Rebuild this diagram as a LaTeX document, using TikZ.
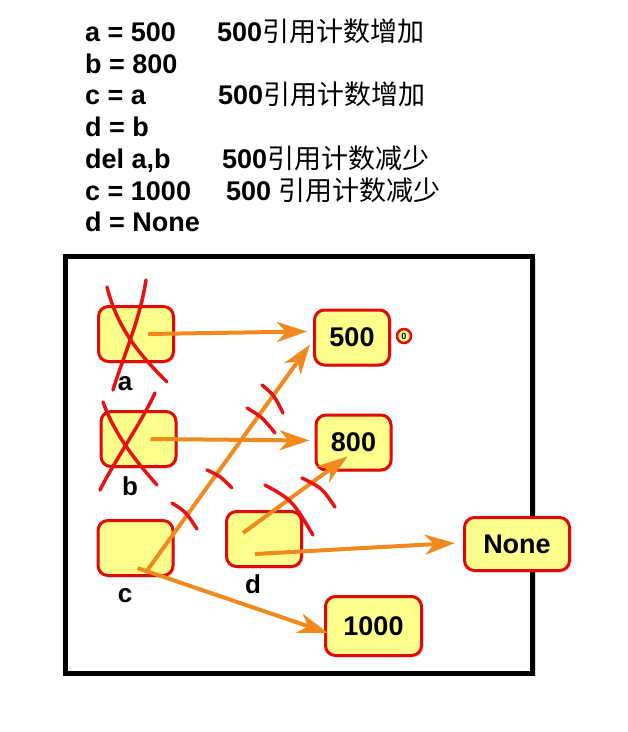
\documentclass[tikz,border=0pt]{standalone}
\usepackage{fontspec}
\setmainfont{Liberation Sans}
\newfontfamily\cjk{Noto Sans CJK SC}
\usepackage{tikz}
\usetikzlibrary{arrows.meta,shadows}
\definecolor{boxfill}{RGB}{255,255,140}
\definecolor{boxline}{RGB}{225,10,10}
\definecolor{refline}{RGB}{240,138,30}
\definecolor{scratchline}{RGB}{232,18,18}
\tikzset{
    codeline/.style={anchor=base west, inner sep=0pt, font=\fontsize{27}{32}\selectfont\bfseries},
    varbox/.style={shape=rectangle, draw=boxline, fill=boxfill, line width=3pt, rounded corners=10pt,
        minimum width=75pt, minimum height=55pt, drop shadow={opacity=0.25, shadow xshift=2pt, shadow yshift=-2pt}},
    valbox/.style={varbox, font=\fontsize{27}{30}\selectfont\bfseries},
    varname/.style={anchor=base, inner sep=0pt, font=\fontsize{26}{30}\selectfont\bfseries},
    ref/.style={draw=refline, line width=4pt, -{Stealth[length=30pt, width=20pt, inset=9pt]}},
    scratch/.style={draw=scratchline, line width=3.5pt, line cap=round},
}
\begin{document}
\begin{tikzpicture}[x=1pt, y=-1pt]

            \useasboundingbox (0,0) rectangle (628,732);

            \node[codeline] (l1) at (85,41) {a = 500};
            \node[codeline] (l2) at (85,73) {b = 800};
            \node[codeline] (l3) at (85,104) {c = a};
            \node[codeline] (l4) at (85,136) {d = b};
            \node[codeline] (l5) at (85,168) {del a,b};
            \node[codeline] (l6) at (85,200) {c = 1000};
            \node[codeline] (l7) at (85,231) {d = None};
            \node[codeline] (n1) at (217,41) {500{\cjk\mdseries 引用计数增加}};
            \node[codeline] (n3) at (218,104) {500{\cjk\mdseries 引用计数增加}};
            \node[codeline] (n5) at (222,168) {500{\cjk\mdseries 引用计数减少}};
            \node[codeline] (n6) at (226,200) {500 {\cjk\mdseries 引用计数减少}};

            \draw[line width=5pt, fill=white, drop shadow={opacity=0.3, shadow xshift=3pt, shadow yshift=-3pt}] (65.5,256) rectangle (532.5,673);

            \node[varbox] (a) at (136,334) {};
            \node[varbox] (b) at (138.5,439) {};
            \node[varbox] (c) at (135.5,548) {};
            \node[varbox] (d) at (264,539) {};
            \node[varname] (la) at (125,390) {a};
            \node[varname] (lb) at (130,495) {b};
            \node[varname] (lc) at (125,602) {c};
            \node[varname] (ld) at (253,593) {d};

            \node[valbox] (v500) at (352,337.5) {500};
            \node[valbox] (v800) at (353.5,442.5) {800};
            \node[valbox, minimum width=105pt, minimum height=53pt] (vNone) at (517,544) {None};
            \node[valbox, minimum width=96pt, minimum height=59pt] (v1000) at (373.5,626) {1000};
            \node[shape=circle, draw=boxline, fill=boxfill, line width=2.5pt, inner sep=0pt, minimum size=14pt,
                font=\fontsize{9}{9}\selectfont\bfseries] (zero) at (404,336) {0};

            \draw[ref] ([xshift=12pt]a.center) -- ([xshift=-6pt, yshift=6pt]v500.west);
            \draw[ref] ([xshift=12pt]b.center) -- ([xshift=-5pt, yshift=2pt]v800.west);
            \draw[ref] ([xshift=12pt, yshift=-22pt]c.center) -- ([xshift=-3pt, yshift=22pt]v500.south west);
            \draw[ref] ([xshift=2pt, yshift=-20pt]c.center) -- ([xshift=4pt, yshift=-7pt]v1000.west);
            \draw[ref] ([xshift=-21pt, yshift=6pt]d.center) -- ([xshift=-6pt, yshift=15pt]v800.south);
            \draw[ref] ([xshift=-9pt, yshift=-15pt]d.center) -- ([xshift=-8pt, yshift=1pt]vNone.west);

            \draw[scratch] (107,287) .. controls (118,330) and (140,355) .. (167,382);
            \draw[scratch] (146,280) .. controls (140,320) and (122,360) .. (113,390);
            \draw[scratch] (103,402) .. controls (115,435) and (135,460) .. (157,485);
            \draw[scratch] (155,393) .. controls (140,425) and (115,460) .. (100,490);
            \draw[scratch] (262,385) .. controls (274,395) .. (283,413);
            \draw[scratch] (247,408) .. controls (262,417) .. (275,433);
            \draw[scratch] (207,470) .. controls (220,476) .. (232,488);
            \draw[scratch] (172,503) .. controls (186,512) .. (197,529);
            \draw[scratch] (265,485) .. controls (292,500) .. (313,535);
            \draw[scratch] (302,478) .. controls (322,488) .. (335,507);

        \end{tikzpicture}
\end{document}
